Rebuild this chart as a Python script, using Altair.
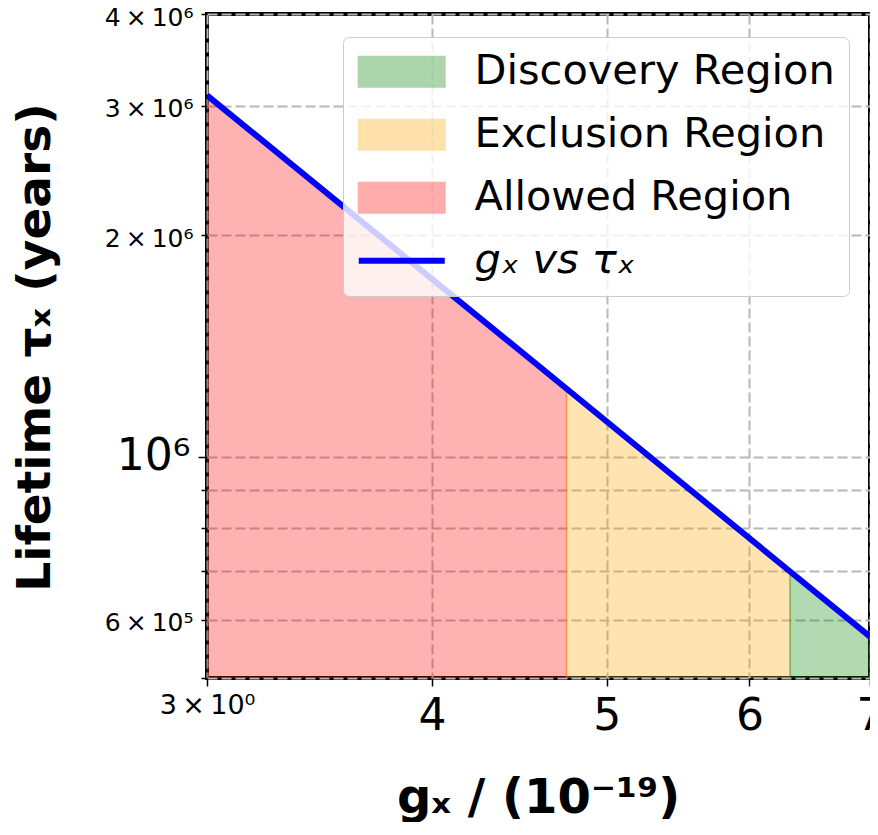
import altair as alt
import pandas as pd

# ---- data ----
region_names = ["Discovery Region", "Exclusion Region", "Allowed Region"]
line_name = "gₓ vs τₓ"
region_colors = ["#008000", "#ffa500", "#ff0000"]
line_color = "#0000ff"

# g_X (1e-19) and lifetime (years) at the region boundaries
allowed_g = [3.0, 4.75]
allowed_tau = [3.10e6, 1.237e6]
exclusion_g = [4.75, 6.32]
exclusion_tau = [1.237e6, 6.98e5]
discovery_g = [6.32, 7.0]
discovery_tau = [6.98e5, 5.69e5]

line_g = [3.0, 4.75, 6.32, 7.0]
line_tau = [3.10e6, 1.237e6, 6.98e5, 5.69e5]

x_domain = [3, 7]
y_domain = [5e5, 4e6]

x_tick_values = [3, 4, 5, 6, 7]
x_tick_labels = ["3\u2009×\u200910⁰", "4", "5", "6", "7"]
y_tick_values = [5e5, 6e5, 7e5, 8e5, 9e5, 1e6, 2e6, 3e6, 4e6]
y_tick_labels = ["", "6\u2009×\u200910⁵", "", "", "", "10⁶",
                 "2\u2009×\u200910⁶", "3\u2009×\u200910⁶", "4\u2009×\u200910⁶"]

# ---- tables ----
rows = []
for name, gs, ts in [("Allowed Region", allowed_g, allowed_tau),
                     ("Exclusion Region", exclusion_g, exclusion_tau),
                     ("Discovery Region", discovery_g, discovery_tau)]:
    for g, t in zip(gs, ts):
        rows.append({"series": name, "g": g, "tau": t})
area_df = pd.DataFrame(rows)
line_df = pd.DataFrame({"series": line_name, "g": line_g, "tau": line_tau})


def label_expr(values, labels):
    parts = []
    for v, l in zip(values, labels):
        parts.append(f"datum.value == {v!r} ? '{l}'")
    return " : ".join(parts) + " : ''"


color_scale = alt.Scale(domain=region_names + [line_name],
                        range=region_colors + [line_color])

is_line = f"datum.value === '{line_name}'"
legend = alt.Legend(
    title=None,
    orient="none",
    legendX=136,
    legendY=23,
    padding=14,
    cornerRadius=6,
    strokeColor="#cccccc",
    fillColor="rgba(255,255,255,0.8)",
    labelFont="DejaVu Sans",
    labelFontSize=41.5,
    labelColor="black",
    labelLimit=1000,
    labelOffset=52,
    symbolOffset=24,
    rowPadding=20,
    symbolSize=7396,
    symbolType={"expr": f"{is_line} ? 'M-1,0H1' : 'M-1,-0.35H1V0.35H-1Z'"},
    symbolFillColor={"expr": f"{is_line} ? 'transparent' : scale('color', datum.value)"},
    symbolStrokeColor={"expr": "scale('color', datum.value)"},
    symbolStrokeWidth={"expr": f"{is_line} ? 6 : 2"},
    symbolOpacity={"expr": f"{is_line} ? 1 : 0.32"},
    labelFontStyle={"expr": f"{is_line} ? 'italic' : 'normal'"},
)

x_enc = alt.X(
    "g:Q",
    scale=alt.Scale(type="log", domain=x_domain, nice=False),
    axis=alt.Axis(
        values=x_tick_values,
        labelExpr=label_expr(x_tick_values, x_tick_labels),
        title="gₓ / (10⁻¹⁹)",
        titleFont="DejaVu Sans",
        titleFontSize=48,
        titleFontWeight="bold",
        titleColor="black",
        titleX=331,
        titleY=134,
        titleBaseline="alphabetic",
        labelFont="DejaVu Sans",
        labelFontSize={"condition": {"test": "datum.value == 3", "value": 27}, "value": 44},
        labelColor="black",
        labelBaseline="middle",
        labelPadding={"condition": {"test": "datum.value == 3", "value": 19}, "value": 30},
        labelFlush=False,
        labelOverlap=False,
        tickSize=8,
        tickWidth=1.5,
        tickColor="black",
        domain=False,
        grid=True,
        gridColor="#b8b8b8",
        gridDash=[10, 4],
        gridWidth=2,
    ),
)

y_enc = alt.Y(
    "tau:Q",
    scale=alt.Scale(type="log", domain=y_domain, nice=False),
    axis=alt.Axis(
        values=y_tick_values,
        labelExpr=label_expr(y_tick_values, y_tick_labels),
        title="Lifetime τₓ (years)",
        titleFont="DejaVu Sans",
        titleFontSize=47,
        titleFontWeight="bold",
        titleColor="black",
        titleAngle=-90,
        titleX=-158,
        titleY=333,
        titleAlign="center",
        titleBaseline="alphabetic",
        labelFont="DejaVu Sans",
        labelFontSize={"condition": {"test": "datum.value == 1000000", "value": 44}, "value": 25},
        labelOffset={"condition": {"test": "datum.value == 1000000", "value": 0}, "value": 3},
        labelColor="black",
        labelPadding=8,
        labelFlush=False,
        labelOverlap=False,
        tickSize={"condition": {"test": "datum.value == 1000000", "value": 9}, "value": 6},
        tickWidth=1.5,
        tickColor="black",
        domain=False,
        grid=True,
        gridColor="#b8b8b8",
        gridDash=[10, 4],
        gridWidth=2,
    ),
)

areas = alt.Chart(area_df).mark_area(
    fillOpacity=0.3, strokeOpacity=0.35, strokeWidth=1.5, clip=True
).encode(
    x=x_enc,
    y=y_enc,
    y2=alt.datum(y_domain[0]),
    color=alt.Color("series:N", scale=color_scale, legend=legend),
    stroke=alt.Stroke("series:N", scale=color_scale, legend=None),
    detail="series:N",
)

line = alt.Chart(line_df).mark_line(strokeWidth=6, clip=True).encode(
    x=alt.X("g:Q"),
    y=alt.Y("tau:Q"),
    color=alt.Color("series:N", scale=color_scale, legend=legend),
)

chart = alt.layer(areas, line).properties(
    width=663,
    height=664,
    autosize=alt.AutoSizeParams(type="none"),
    padding={"left": 199, "top": 6, "right": 0, "bottom": 144},
).configure_view(
    stroke="black",
    strokeWidth=4,
)

chart.save("out.html", embed_options={"renderer": "svg", "actions": False})
